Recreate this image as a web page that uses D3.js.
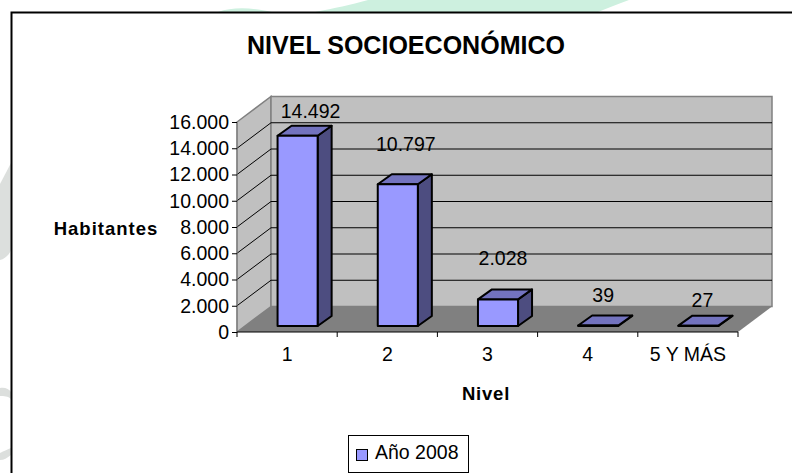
<!DOCTYPE html>
<html lang="es">
<head>
<meta charset="UTF-8">
<title>Nivel socioeconómico</title>
<script src="https://d3js.org/d3.v7.min.js"></script>
<style>
  html, body { margin: 0; padding: 0; background: #fff; }
  svg { display: block; }
  text { font-family: "Liberation Sans", Arial, sans-serif; fill: #000; }
</style>
</head>
<body>
<svg id="chart" width="792" height="473"></svg>
<script>
// Data
var categories = ["1", "2", "3", "4", "5 Y MÁS"];
var habitantes = [14492, 10797, 2028, 39, 27];
var yTicks = [0, 2000, 4000, 6000, 8000, 10000, 12000, 14000, 16000];
var seriesName = "Año 2008";

var svg = d3.select("#chart");

// Excel style 3D box: floor depth and bar depth
var depth = { x: 34, y: -25.5 };
var barDepth = { x: 14, y: -10 };
var barShift = { x: 10.5, y: -6 };

var x = d3.scaleBand().domain(categories).range([237, 738]).paddingInner(0.6).paddingOuter(0.3);
var y = d3.scaleLinear().domain([0, 16000]).range([332, 122]);

var es = d3.formatLocale({ decimal: ",", thousands: ".", grouping: [3], currency: ["", ""] });
var fmt = es.format(",d");

var polygon = d3.line();

// Faint watermark of the page behind the chart
var watermark = svg.append("g");
watermark.append("path")
    .attr("d", "M315,12 C335,8 350,5 368,0 L629,0 C618,4 608,8 598,12 Z")
    .attr("fill", "#cdf0df");
watermark.append("path")
    .attr("d", "M218,12 C232,7 250,7 272,12 Z")
    .attr("fill", "#cdf0df");
watermark.append("path")
    .attr("d", "M11,163 L0,184 L0,260 C5,259 9,255 11,250 Z")
    .attr("fill", "#dcdfdd");
watermark.append("path")
    .attr("d", "M0,388 C5,387 9,389 11,392 L11,399 C8,396 4,396 0,396 Z")
    .attr("fill", "#dcdfdd");
watermark.append("path")
    .attr("d", "M0,453 C4,451 8,449 11,448 L11,455 C7,458 4,460 0,460 Z")
    .attr("fill", "#dcdfdd");

// Chart frame, runs off the right and bottom of the picture
svg.append("path")
    .attr("d", "M792,12.5 L11.5,12.5 L11.5,473")
    .attr("fill", "none")
    .attr("stroke", "#000")
    .attr("stroke-width", 2);

var x0 = x.range()[0], x1 = x.range()[1], y0 = y(0), yTop = y(16000);

// Walls
svg.append("path")
    .attr("d", polygon([[x0, y0], [x0 + depth.x, y0 + depth.y], [x0 + depth.x, yTop + depth.y], [x0, yTop]]) + "Z")
    .attr("fill", "#c0c0c0")
    .attr("stroke", "#808080")
    .attr("stroke-width", 1.5);
svg.append("rect")
    .attr("x", x0 + depth.x)
    .attr("y", yTop + depth.y)
    .attr("width", x1 - x0)
    .attr("height", y0 - yTop)
    .attr("fill", "#c0c0c0")
    .attr("stroke", "#808080")
    .attr("stroke-width", 1.5);

// Floor
svg.append("path")
    .attr("d", polygon([[x0, y0], [x1, y0], [x1 + depth.x, y0 + depth.y], [x0 + depth.x, y0 + depth.y]]) + "Z")
    .attr("fill", "#808080");

// Gridlines round the side wall and across the back
svg.append("g")
    .selectAll("path")
    .data(yTicks.slice(1, -1))
    .enter()
    .append("path")
      .attr("d", function(d) {
        return polygon([[x0, y(d)], [x0 + depth.x, y(d) + depth.y], [x1 + depth.x, y(d) + depth.y]]);
      })
      .attr("fill", "none")
      .attr("stroke", "#000")
      .attr("stroke-width", 1);

// Bars
var barBottom = y0 + barShift.y;
function barLeft(d) { return x(d) + barShift.x; }
function barTop(i) { return barBottom - (y0 - y(habitantes[i])); }

var bars = svg.append("g")
    .selectAll("g")
    .data(categories)
    .enter()
    .append("g")
      .attr("stroke", "#000")
      .attr("stroke-width", 2)
      .attr("stroke-linejoin", "round");

bars.append("path")
    .attr("fill", "#4d4d80")
    .attr("d", function(d, i) {
      var r = barLeft(d) + x.bandwidth(), t = barTop(i);
      return polygon([[r, barBottom], [r + barDepth.x, barBottom + barDepth.y], [r + barDepth.x, t + barDepth.y], [r, t]]) + "Z";
    });
bars.append("path")
    .attr("fill", "#7373bf")
    .attr("d", function(d, i) {
      var l = barLeft(d), r = l + x.bandwidth(), t = barTop(i);
      return polygon([[l, t], [r, t], [r + barDepth.x, t + barDepth.y], [l + barDepth.x, t + barDepth.y]]) + "Z";
    });
bars.append("rect")
    .attr("fill", "#9999ff")
    .attr("x", function(d) { return barLeft(d); })
    .attr("y", function(d, i) { return barTop(i); })
    .attr("width", x.bandwidth())
    .attr("height", function(d, i) { return barBottom - barTop(i); });

// Value labels were dragged by hand in the original, so each one has its own nudge
var nudgeX = [13, 8, 5, 5, 4];
var nudgeY = [-18, -33, -34, -23, -19];
svg.append("g")
    .selectAll("text")
    .data(categories)
    .enter()
    .append("text")
      .attr("x", function(d, i) { return barLeft(d) + x.bandwidth() / 2 + nudgeX[i]; })
      .attr("y", function(d, i) { return barTop(i) + nudgeY[i]; })
      .attr("text-anchor", "middle")
      .style("font-size", "19.5px")
      .text(function(d, i) { return fmt(habitantes[i]); });

// Axes
var yAxis = d3.axisLeft(y).tickValues(yTicks).tickFormat(fmt).tickSize(5).tickPadding(3);
var gy = svg.append("g").attr("transform", "translate(" + x0 + ",0)").call(yAxis);
gy.selectAll("text").style("font-size", "19.5px").style("font-family", "Liberation Sans");
gy.select(".domain").attr("d", "M0," + y0 + "V" + yTop).attr("stroke", "#808080");

var xAxis = d3.axisBottom(x).tickSize(0).tickPadding(15);
var gx = svg.append("g").attr("transform", "translate(0," + y0 + ")").call(xAxis);
gx.selectAll("text").style("font-size", "19.5px").style("font-family", "Liberation Sans");
gx.select(".domain").attr("d", "M" + x0 + ",0H" + x1).attr("stroke", "#000");

// tick marks between the categories
gx.selectAll(".boundary")
    .data(d3.range(categories.length + 1))
    .enter()
    .append("line")
      .attr("class", "boundary")
      .attr("x1", function(i) { return x0 + i * x.step(); })
      .attr("x2", function(i) { return x0 + i * x.step(); })
      .attr("y1", 0)
      .attr("y2", 5)
      .attr("stroke", "#000");

// Titles
svg.append("text")
    .attr("x", 406)
    .attr("y", 54)
    .attr("text-anchor", "middle")
    .style("font-size", "25.5px")
    .style("font-weight", "bold")
    .attr("textLength", 318)
    .attr("lengthAdjust", "spacingAndGlyphs")
    .text("NIVEL SOCIOECONÓMICO");
svg.append("text")
    .attr("x", 106)
    .attr("y", 235)
    .attr("text-anchor", "middle")
    .style("font-size", "18.5px")
    .style("font-weight", "bold")
    .style("letter-spacing", "1px")
    .text("Habitantes");
svg.append("text")
    .attr("x", 486)
    .attr("y", 400)
    .attr("text-anchor", "middle")
    .style("font-size", "18.5px")
    .style("font-weight", "bold")
    .style("letter-spacing", "0.8px")
    .text("Nivel");

// Legend
var legend = svg.append("g");
legend.append("rect")
    .attr("x", 348.5)
    .attr("y", 435.5)
    .attr("width", 120)
    .attr("height", 37)
    .attr("fill", "#fff")
    .attr("stroke", "#000");
legend.append("rect")
    .attr("x", 356.5)
    .attr("y", 449.5)
    .attr("width", 11)
    .attr("height", 11)
    .attr("fill", "#9999ff")
    .attr("stroke", "#000");
legend.append("text")
    .attr("x", 375)
    .attr("y", 459)
    .style("font-size", "19.5px")
    .text(seriesName);
</script>
</body>
</html>
